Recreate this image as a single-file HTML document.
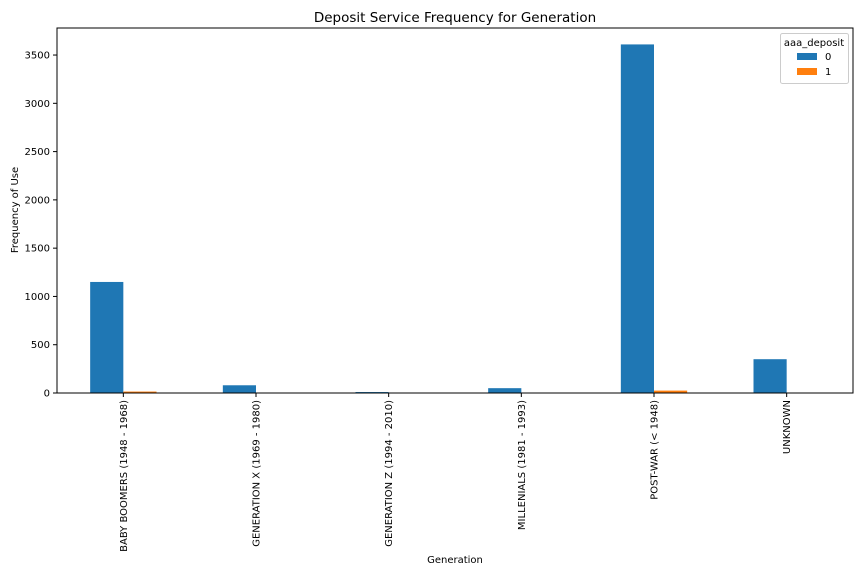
<!DOCTYPE html>
<html><head><meta charset="utf-8"><style>
body{margin:0;background:#fff;font-family:"Liberation Sans","DejaVu Sans",sans-serif;}
svg text{font-family:"DejaVu Sans","Liberation Sans",sans-serif;}
</style></head><body>
<svg id="chart" width="864" height="576" xmlns="http://www.w3.org/2000/svg">
<text x="455" y="22" font-size="13.5" text-anchor="middle">Deposit Service Frequency for Generation</text>
<text x="455" y="563" font-size="10" text-anchor="middle">Generation</text>
<text transform="translate(18,210) rotate(-90)" font-size="10" text-anchor="middle">Frequency of Use</text>
<g id="plot"></g>
<rect x="57" y="28" width="796" height="365" fill="none" stroke="#000" stroke-width="1"/>
<g>
<rect x="780.5" y="33.5" width="68" height="50" fill="#fff" stroke="#ccc" rx="2"/>
<text x="814" y="46" font-size="10" text-anchor="middle">aaa_deposit</text>
<rect x="797" y="53" width="20" height="7" fill="#1f77b4"/>
<text x="825" y="60" font-size="10">0</text>
<rect x="797" y="68" width="20" height="7" fill="#ff7f0e"/>
<text x="825" y="75" font-size="10">1</text>
</g>
</svg>
<script>
const categories=["BABY BOOMERS (1948 - 1968)","GENERATION X (1969 - 1980)","GENERATION Z (1994 - 2010)","MILLENIALS (1981 - 1993)","POST-WAR (< 1948)","UNKNOWN"];
const series0=[1150,80,10,50,3610,350];
const series1=[15,0,0,0,25,0];
const yTicks=[0,500,1000,1500,2000,2500,3000,3500];
const L=57,R=853,T=28,B=393,YMAX=3780;
const NS="http://www.w3.org/2000/svg";
const g=document.getElementById('plot');
const step=(R-L)/categories.length;
const xc=i=>L+step*(i+0.5);
const y=v=>B-(v/YMAX)*(B-T);
const bw=step*0.25;
function mk(t,a){const e=document.createElementNS(NS,t);for(const k in a)e.setAttribute(k,a[k]);g.appendChild(e);return e;}
categories.forEach((c,i)=>{
  const b0=mk('rect',{x:xc(i)-bw,y:y(series0[i]),width:bw,height:B-y(series0[i]),fill:'#1f77b4'});
  
  
  const b1=mk('rect',{x:xc(i),y:y(series1[i]),width:bw,height:B-y(series1[i]),fill:'#ff7f0e'});
  
  
  const tk=mk('line',{x1:xc(i),x2:xc(i),y1:B,y2:B+4,stroke:'#000'});
  
  
  const tx=mk('text',{transform:`translate(${xc(i)+3.5},${B+7}) rotate(-90)`,'font-size':'10','text-anchor':'end'});
  tx.textContent=c;
  
  
});
yTicks.forEach(v=>{
  const tk=mk('line',{x1:L-4,x2:L,y1:y(v),y2:y(v),stroke:'#000'});
  
  
  const tx=mk('text',{x:L-7,y:y(v)+3.5,'font-size':'10','text-anchor':'end'});
  tx.textContent=v;
  
  
});
</script>
</body></html>
